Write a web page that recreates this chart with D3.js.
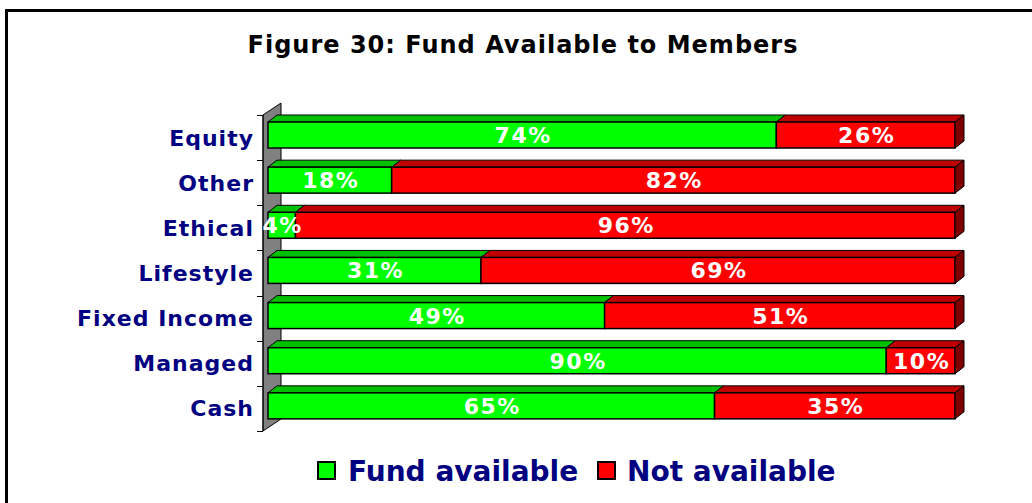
<!DOCTYPE html>
<html>
<head>
<meta charset="utf-8">
<script src="https://cdn.jsdelivr.net/npm/d3@7"></script>
<style>
  body { margin: 0; background: #fff; }
  svg { display: block; font-family: Verdana, "DejaVu Sans", sans-serif; font-weight: bold; }
</style>
</head>
<body>
<svg id="chart" width="1032" height="503"></svg>
<script>
// Chart data
const categories = ["Equity", "Other", "Ethical", "Lifestyle", "Fixed Income", "Managed", "Cash"];
const fundAvailable = [74, 18, 4, 31, 49, 90, 65];
const notAvailable = [26, 82, 96, 69, 51, 10, 35];
const seriesNames = ["Fund available", "Not available"];

// Colours: front, top, side
const colors = [
  { front: "#00ff00", top: "#00c000", side: "#008000" },
  { front: "#ff0000", top: "#c00000", side: "#800000" }
];

const svg = d3.select("#chart");

// Outer frame
svg.append("rect")
  .attr("x", 6.5).attr("y", 10.5)
  .attr("width", 1100).attr("height", 600)
  .attr("fill", "none").attr("stroke", "#000").attr("stroke-width", 3);

// Title
svg.append("text")
  .attr("x", 523).attr("y", 53)
  .attr("text-anchor", "middle")
  .attr("font-size", 24)
  .attr("letter-spacing", 1)
  .attr("fill", "#000")
  .text("Figure 30: Fund Available to Members");

// Scales
const x = d3.scaleLinear().domain([0, 100]).range([268, 955]);
const y = d3.scaleBand().domain(categories).range([115, 431]).padding(0);

const depth = { dx: 9, dy: 7 };   // 3d offset of the bars
const wallDepth = { dx: 18, dy: 12 };
const barOffset = 7, barH = 26;

// Back wall
const wallLeft = 263;
svg.append("polygon")
  .attr("points", [
    [wallLeft, y.range()[0]],
    [wallLeft + wallDepth.dx, y.range()[0] - wallDepth.dy],
    [wallLeft + wallDepth.dx, y.range()[1] - wallDepth.dy],
    [wallLeft, y.range()[1]]
  ].map(p => p.join(",")).join(" "))
  .attr("fill", "#808080").attr("stroke", "#000").attr("stroke-width", 1);

// Axis line and ticks at category boundaries
svg.append("line")
  .attr("x1", wallLeft).attr("x2", wallLeft)
  .attr("y1", y.range()[0]).attr("y2", y.range()[1])
  .attr("stroke", "#000");
const boundaries = categories.map(c => y(c)).concat([y.range()[1]]);
svg.selectAll(".tick")
  .data(boundaries)
  .enter().append("line")
  .attr("x1", wallLeft - 6).attr("x2", wallLeft)
  .attr("y1", d => Math.round(d) + 0.5).attr("y2", d => Math.round(d) + 0.5)
  .attr("stroke", "#000");

// Category labels
svg.selectAll(".cat")
  .data(categories)
  .enter().append("text")
  .attr("x", 254)
  .attr("y", d => y(d) + y.bandwidth() / 2 + 8)
  .attr("text-anchor", "end")
  .attr("font-size", 22)
  .attr("letter-spacing", 1)
  .attr("fill", "#000080")
  .text(d => d);

// Stacked data
const rows = categories.map((c, i) => ({
  cat: c,
  segs: [
    { s: 0, x0: 0, x1: fundAvailable[i], v: fundAvailable[i] },
    { s: 1, x0: fundAvailable[i], x1: fundAvailable[i] + notAvailable[i], v: notAvailable[i] }
  ]
}));

const poly = pts => pts.map(p => p.join(",")).join(" ");

rows.forEach(r => {
  const by = y(r.cat) + barOffset;
  const g = svg.append("g");
  r.segs.forEach(sg => {
    const a = x(sg.x0), b = x(sg.x1);
    // top face
    g.append("polygon")
      .attr("points", poly([[a, by], [a + depth.dx, by - depth.dy], [b + depth.dx, by - depth.dy], [b, by]]))
      .attr("fill", colors[sg.s].top).attr("stroke", "#000").attr("stroke-width", 1)
      .attr("stroke-linejoin", "round");
    // front face
    g.append("rect")
      .attr("x", a).attr("y", by)
      .attr("width", b - a).attr("height", barH)
      .attr("fill", colors[sg.s].front).attr("stroke", "#000").attr("stroke-width", 1.5);
  });
  // side face of the last segment
  const last = r.segs[r.segs.length - 1];
  const e = x(last.x1);
  g.append("polygon")
    .attr("points", poly([[e, by], [e + depth.dx, by - depth.dy], [e + depth.dx, by + barH - depth.dy], [e, by + barH]]))
    .attr("fill", colors[last.s].side).attr("stroke", "#000").attr("stroke-width", 1);
  // value labels
  r.segs.forEach(sg => {
    g.append("text")
      .attr("x", (x(sg.x0) + x(sg.x1)) / 2 + 1)
      .attr("y", by + barH / 2 + 8)
      .attr("text-anchor", "middle")
      .attr("font-size", 22)
      .attr("letter-spacing", 1.5)
      .attr("fill", "#fff")
      .text(sg.v + "%");
  });
});

// Legend
const legendItems = [
  { name: seriesNames[0], color: colors[0].front, x: 318, tx: 348 },
  { name: seriesNames[1], color: colors[1].front, x: 598, tx: 627 }
];
const lg = svg.selectAll(".legend")
  .data(legendItems)
  .enter().append("g");
lg.append("rect")
  .attr("x", d => d.x).attr("y", 462)
  .attr("width", 17).attr("height", 17)
  .attr("fill", d => d.color).attr("stroke", "#000").attr("stroke-width", 2);
lg.append("text")
  .attr("x", d => d.tx).attr("y", 481)
  .attr("font-size", 28)
  .attr("fill", "#000080")
  .text(d => d.name);
</script>
</body>
</html>
